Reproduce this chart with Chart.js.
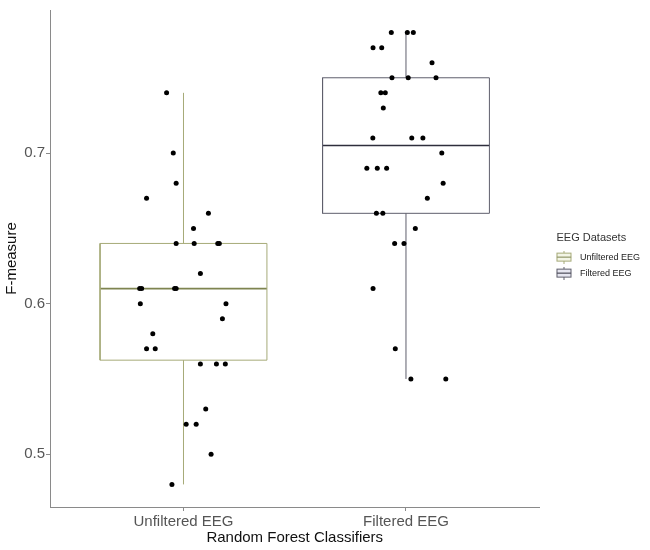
<!DOCTYPE html>
<html><head><meta charset="utf-8">
<script src="https://cdn.jsdelivr.net/npm/chart.js@4.4.1/dist/chart.umd.min.js"></script>
<style>html,body{margin:0;padding:0;background:#fff;}canvas{display:block;}</style>
</head><body>
<canvas id="c" width="650" height="550"></canvas>
<script>
// ---- data ----
const categories = ['Unfiltered EEG', 'Filtered EEG'];
const yTicks = [0.5, 0.6, 0.7];
const legendTitle = 'EEG Datasets';
const xTitle = 'Random Forest Classifiers';
const yTitle = 'F-measure';

// box statistics: [min, q1, median, q3, max]
const unfilteredStats = [0.48, 0.5625, 0.61, 0.64, 0.74];
const filteredStats = [0.55, 0.66, 0.705, 0.75, 0.78];

// jittered observations (value, horizontal jitter in category units)
const unfilteredValues = [0.74,0.70,0.68,0.67,0.66,0.65,0.64,0.64,0.64,0.64,0.62,0.61,0.61,0.61,0.61,0.60,0.60,0.59,0.58,0.57,0.57,0.56,0.56,0.56,0.53,0.52,0.52,0.50,0.48];
const unfilteredJitter = [-0.076,-0.046,-0.033,-0.166,0.112,0.045,-0.033,0.048,0.154,0.161,0.076,-0.197,-0.188,-0.040,-0.033,-0.194,0.191,0.175,-0.138,-0.166,-0.127,0.076,0.148,0.188,0.100,0.012,0.057,0.124,-0.052];
const filteredValues = [0.78,0.78,0.78,0.77,0.77,0.76,0.75,0.75,0.75,0.74,0.74,0.73,0.71,0.71,0.71,0.70,0.69,0.69,0.69,0.68,0.67,0.66,0.66,0.65,0.64,0.64,0.61,0.57,0.55,0.55];
const filteredJitter = [-0.066,0.006,0.033,-0.148,-0.109,0.117,-0.063,0.010,0.135,-0.113,-0.093,-0.102,-0.149,0.026,0.076,0.161,-0.176,-0.129,-0.087,0.167,0.096,-0.133,-0.104,0.042,-0.051,-0.009,-0.148,-0.048,0.022,0.179];

// ---- styles ----
const FONT = "'Liberation Sans', Arial, sans-serif";
const halfBox = 0.375;
const styles = [
  {stroke: '#a6aa78', median: '#7e8450', fill: '#f3f5e6'},
  {stroke: '#5f5f6c', median: '#2e2e3c', fill: '#e6e6f0'}
];
const statsList = [unfilteredStats, filteredStats];

function boxDatasets(i) {
  const [mn, q1, med, q3, mx] = statsList[i];
  const s = styles[i];
  const common = {showLine: true, pointRadius: 0, pointHoverRadius: 0, fill: false, tension: 0, borderWidth: 1, borderColor: s.stroke};
  return [
    Object.assign({}, common, {label: categories[i] + ' box', data: [
      {x: i - halfBox, y: q1}, {x: i + halfBox, y: q1}, {x: i + halfBox, y: q3}, {x: i - halfBox, y: q3}, {x: i - halfBox, y: q1}
    ]}),
    Object.assign({}, common, {label: categories[i] + ' median', borderColor: s.median, borderWidth: 1.6, data: [
      {x: i - halfBox, y: med}, {x: i + halfBox, y: med}
    ]}),
    Object.assign({}, common, {label: categories[i] + ' upper whisker', data: [{x: i, y: q3}, {x: i, y: mx}]}),
    Object.assign({}, common, {label: categories[i] + ' lower whisker', data: [{x: i, y: mn}, {x: i, y: q1}]})
  ];
}

function pointsData(values, jitter, i) {
  return values.map((v, k) => ({x: i + jitter[k], y: v}));
}

function makeGlyph(s) {
  const c = document.createElement('canvas');
  c.width = 26; c.height = 13;
  const g = c.getContext('2d');
  g.fillStyle = s.fill; g.fillRect(0.5, 2.5, 14, 8);
  g.strokeStyle = s.stroke; g.lineWidth = 1;
  g.strokeRect(0.5, 2.5, 14, 8);
  g.beginPath(); g.moveTo(7.5, 0); g.lineTo(7.5, 2.5); g.moveTo(7.5, 10.5); g.lineTo(7.5, 13); g.stroke();
  g.strokeStyle = s.median; g.beginPath(); g.moveTo(0.5, 6.5); g.lineTo(14.5, 6.5); g.stroke();
  return c;
}
const glyphs = styles.map(makeGlyph);

const datasets = [
  {label: 'points', data: pointsData(unfilteredValues, unfilteredJitter, 0).concat(pointsData(filteredValues, filteredJitter, 1)),
   pointRadius: 2.5, pointHoverRadius: 2.5, backgroundColor: '#000', borderWidth: 0, showLine: false}
].concat(boxDatasets(0), boxDatasets(1));

const axisColor = '#8a8a8a';

new Chart(document.getElementById('c'), {
  type: 'scatter',
  data: {datasets},
  options: {
    responsive: false,
    animation: false,
    layout: {padding: {left: 0, right: 0, top: 6, bottom: 3}},
    plugins: {
      tooltip: {enabled: false},
      legend: {
        position: 'right',
        align: 'center',
        fullSize: false,
        title: {display: true, text: legendTitle, position: 'start', color: '#333', font: {family: FONT, size: 11}},
        labels: {
          usePointStyle: true,
          pointStyleWidth: 12,
          padding: 7,
          color: '#222',
          font: {family: FONT, size: 9},
          generateLabels: () => categories.map((c, i) => ({
            text: c, pointStyle: glyphs[i], fillStyle: styles[i].fill, strokeStyle: styles[i].stroke,
            lineWidth: 0, hidden: false, fontColor: '#222'
          }))
        },
        onClick: () => {}
      }
    },
    scales: {
      x: {
        type: 'linear', min: -0.6, max: 1.6,
        afterBuildTicks: (s) => { s.ticks = categories.map((c, i) => ({value: i})); },
        afterFit: (s) => { s.height = 40; },
        ticks: {callback: (v) => categories[v], color: '#555', padding: 2, maxRotation: 0, autoSkip: false, font: {family: FONT, size: 15}},
        grid: {display: true, drawOnChartArea: false, drawTicks: true, tickLength: 4, color: axisColor},
        border: {display: true, color: axisColor, width: 1},
        title: {display: true, text: xTitle, color: '#111', padding: {top: 0, bottom: 0}, font: {family: FONT, size: 15}}
      },
      y: {
        type: 'linear', position: 'left', min: 0.465, max: 0.795,
        afterBuildTicks: (s) => { s.ticks = yTicks.map(v => ({value: v})); },
        afterFit: (s) => { s.width = 50; },
        ticks: {callback: (v) => v.toFixed(1), color: '#555', padding: 1, font: {family: FONT, size: 15}},
        grid: {display: true, drawOnChartArea: false, drawTicks: true, tickLength: 4, color: axisColor},
        border: {display: true, color: axisColor, width: 1},
        title: {display: true, text: yTitle, color: '#111', padding: {top: 3, bottom: 0}, font: {family: FONT, size: 15}}
      },
      y2: {
        type: 'linear', position: 'right', min: 0, max: 1,
        afterFit: (s) => { s.width = 17; },
        ticks: {display: false},
        grid: {display: false},
        border: {display: false}
      }
    }
  }
});
</script>
</body></html>
